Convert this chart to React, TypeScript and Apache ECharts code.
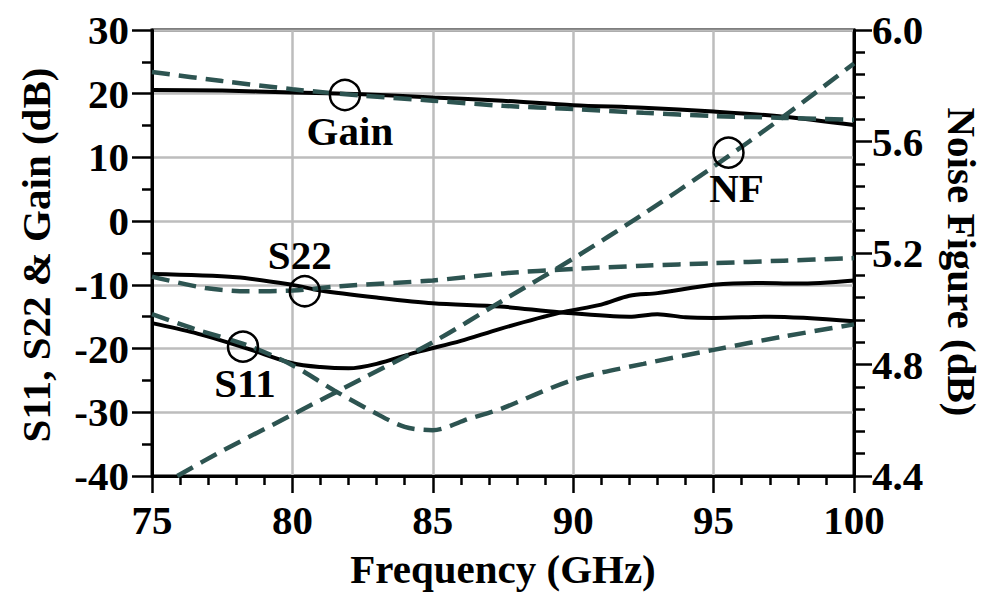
import React, { useEffect, useRef } from "react";
import * as echarts from "echarts";

const FONT = "'Liberation Serif', 'Times New Roman', serif";
const TEAL = "#2d5451";

// Gain (dB)
const gainFreq = [75, 77.5, 80, 82.5, 85, 87.5, 90, 92.5, 95, 97.5, 100];
const gainMeas = [20.6, 20.5, 20.2, 19.9, 19.4, 18.9, 18.2, 17.8, 17.2, 16.4, 15.1];
const gainSim = [23.4, 22.0, 20.7, 19.7, 18.9, 18.1, 17.6, 17.0, 16.5, 16.2, 15.9];

// S11 (dB)
const s11MeasFreq = [75, 76.5, 78.4, 80, 81, 82, 83, 84.4, 86, 87.4, 89.5, 91, 92, 93, 95, 96.5, 98, 100];
const s11Meas = [-16.0, -17.5, -20.0, -22.3, -22.9, -23.1, -22.4, -20.6, -18.8, -16.9, -14.4, -13.1, -11.7, -11.3, -10.0, -9.7, -9.8, -9.3];
const s11SimFreq = [75, 76.5, 78.4, 80, 81.5, 82.9, 84, 85, 86.3, 87.4, 90, 92.5, 95, 97.5, 100];
const s11Sim = [-14.6, -16.9, -19.5, -22.6, -26.6, -30.0, -32.3, -32.8, -31.0, -29.5, -24.9, -22.4, -20.2, -18.1, -16.2];

// S22 (dB)
const s22MeasFreq = [75, 78, 80, 81, 83, 85, 87.4, 89.5, 92, 93, 94, 95, 97, 100];
const s22Meas = [-8.3, -8.8, -10.0, -10.9, -12.0, -12.9, -13.4, -14.3, -15.0, -14.6, -15.1, -15.2, -15.0, -15.7];
const s22SimFreq = [75, 76.9, 78.4, 80, 81.7, 85, 87.5, 90, 92.5, 95, 97.5, 100];
const s22Sim = [-8.7, -10.5, -11.0, -10.9, -10.2, -9.3, -8.2, -7.5, -7.0, -6.6, -6.2, -5.8];

// Noise figure (dB)
const nfFreq = [75.9, 77.5, 80, 82.5, 85, 87.5, 90, 92.5, 95, 97.5, 100];
const nfSim = [4.4, 4.49, 4.62, 4.75, 4.88, 5.03, 5.18, 5.34, 5.51, 5.69, 5.88];

// Annotation markers
const markLabels = ["Gain", "S22", "S11"];
const markFreq = [81.87, 80.44, 78.24];
const markVal = [19.8, -11.0, -19.7];
const nfMarkFreq = 95.53;
const nfMarkVal = 5.56;

const zip = (xs: number[], ys: number[]) => xs.map((x, i) => [x, ys[i]]);

const solid = (name: string, data: number[][]) => ({
  name,
  type: "line",
  data,
  showSymbol: false,
  smooth: 0.3,
  lineStyle: { color: "#000", width: 4, type: "solid" },
  z: 3,
});

const dashed = (name: string, data: number[][], yAxisIndex = 0) => ({
  name,
  type: "line",
  data,
  yAxisIndex,
  showSymbol: false,
  smooth: 0.3,
  lineStyle: { color: TEAL, width: 4.5, type: [18, 9] },
  z: 4,
});

const FS = 41;

const labelStyle = {
  show: true,
  fontFamily: FONT,
  fontWeight: "bold",
  fontSize: FS,
  color: "#000",
  opacity: 1,
  textBorderWidth: 0,
};

const markerItem = {
  color: "rgba(0,0,0,0)",
  borderColor: "#000",
  borderWidth: 2.5,
  opacity: 1,
};

export default function App() {
  const ref = useRef<HTMLDivElement>(null);
  useEffect(() => {
    if (!ref.current) return;
    const chart = echarts.init(ref.current, undefined, { renderer: "svg" });
    const axisLabel = {
      fontFamily: FONT,
      fontWeight: "bold",
      fontSize: FS,
      color: "#000",
    };
    chart.setOption({
      animation: false,
      backgroundColor: "#fff",
      grid: {
        left: 152,
        right: 136,
        top: 30,
        bottom: 129,
        show: true,
        borderColor: "#000",
        borderWidth: 3,
      },
      xAxis: {
        type: "value",
        min: 75,
        max: 100,
        interval: 5,
        axisLine: { onZero: false, lineStyle: { color: "#000", width: 3 } },
        axisTick: { length: 17, lineStyle: { color: "#000", width: 2.5 } },
        minorTick: { show: true, splitNumber: 5, length: 9, lineStyle: { color: "#000", width: 2.5 } },
        splitLine: { show: true, lineStyle: { color: "#bdbdbd", width: 2.5 } },
        axisLabel: { ...axisLabel, margin: 23 },
      },
      yAxis: [
        {
          type: "value",
          min: -40,
          max: 30,
          interval: 10,
          axisLine: { show: true, onZero: false, lineStyle: { color: "#000", width: 3 } },
          axisTick: { show: true, length: 20, lineStyle: { color: "#000", width: 2.5 } },
          minorTick: { show: true, splitNumber: 2, length: 10, lineStyle: { color: "#000", width: 2.5 } },
          splitLine: { show: true, lineStyle: { color: "#bdbdbd", width: 2.5 } },
          axisLabel: { ...axisLabel, margin: 23 },
        },
        {
          type: "value",
          position: "right",
          min: 4.4,
          max: 6.0,
          interval: 0.4,
          axisLine: { show: true, onZero: false, lineStyle: { color: "#000", width: 3 } },
          axisTick: { show: true, length: 18, lineStyle: { color: "#000", width: 2.5 } },
          minorTick: { show: true, splitNumber: 5, length: 11, lineStyle: { color: "#000", width: 2.5 } },
          splitLine: { show: false },
          axisLabel: { ...axisLabel, margin: 18, formatter: (v: number) => v.toFixed(1) },
        },
      ],
      graphic: [
        {
          type: "text",
          x: 36,
          y: 255,
          rotation: Math.PI / 2,
          style: {
            text: "S11, S22 & Gain (dB)",
            font: `bold ${FS}px ${FONT}`,
            fill: "#000",
            align: "center",
            verticalAlign: "middle",
          },
        },
        {
          type: "text",
          x: 962,
          y: 262,
          rotation: -Math.PI / 2,
          style: {
            text: "Noise Figure (dB)",
            font: `bold ${FS}px ${FONT}`,
            fill: "#000",
            align: "center",
            verticalAlign: "middle",
          },
        },
        {
          type: "text",
          x: 503,
          y: 569,
          style: {
            text: "Frequency (GHz)",
            font: `bold ${FS}px ${FONT}`,
            fill: "#000",
            align: "center",
            verticalAlign: "middle",
          },
        },
      ],
      series: [
        solid("Gain meas", zip(gainFreq, gainMeas)),
        dashed("Gain sim", zip(gainFreq, gainSim)),
        solid("S22 meas", zip(s22MeasFreq, s22Meas)),
        dashed("S22 sim", zip(s22SimFreq, s22Sim)),
        solid("S11 meas", zip(s11MeasFreq, s11Meas)),
        dashed("S11 sim", zip(s11SimFreq, s11Sim)),
        dashed("NF sim", zip(nfFreq, nfSim), 1),
        {
          name: "markers",
          type: "scatter",
          symbol: "circle",
          symbolSize: 30,
          z: 6,
          itemStyle: markerItem,
          data: [
            {
              value: [markFreq[0], markVal[0]],
              label: { ...labelStyle, formatter: markLabels[0], position: "bottom", distance: -1, offset: [5, 0] },
            },
            {
              value: [markFreq[1], markVal[1]],
              label: { ...labelStyle, formatter: markLabels[1], position: "top", distance: -1, offset: [-5, 0] },
            },
            {
              value: [markFreq[2], markVal[2]],
              label: { ...labelStyle, formatter: markLabels[2], position: "bottom", distance: 0, offset: [2, 0] },
            },
          ],
        },
        {
          name: "nf marker",
          type: "scatter",
          yAxisIndex: 1,
          symbol: "circle",
          symbolSize: 30,
          z: 6,
          itemStyle: markerItem,
          data: [
            {
              value: [nfMarkFreq, nfMarkVal],
              label: { ...labelStyle, formatter: "NF", position: "bottom", distance: -1, offset: [8, 0] },
            },
          ],
        },
      ],
    });
    return () => chart.dispose();
  }, []);
  return (
    <div
      ref={ref}
      style={{ position: "fixed", left: 0, top: 0, width: 990, height: 605, background: "#fff" }}
    />
  );
}
